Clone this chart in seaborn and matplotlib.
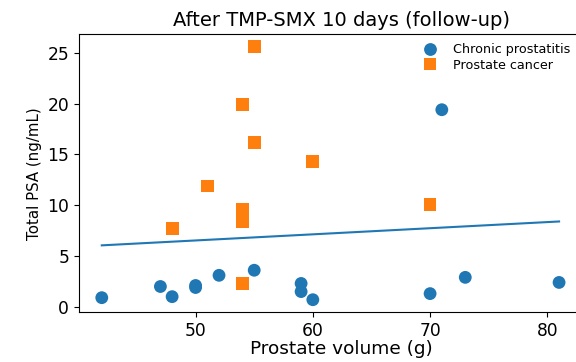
import matplotlib
matplotlib.use("Agg")
import matplotlib.pyplot as plt
import seaborn as sns
import pandas as pd

# Chronic prostatitis: prostate volume (g) and total PSA (ng/mL)
cp_volume = [42, 47, 48, 50, 50, 52, 55, 59, 59, 60, 70, 71, 73, 81]
cp_psa = [0.9, 2.0, 1.0, 1.9, 2.1, 3.1, 3.6, 2.3, 1.5, 0.7, 1.3, 19.4, 2.9, 2.4]

# Prostate cancer: prostate volume (g) and total PSA (ng/mL)
pc_volume = [48, 51, 54, 54, 54, 54, 55, 55, 60, 70]
pc_psa = [7.7, 11.9, 19.9, 9.6, 8.4, 2.3, 25.6, 16.2, 14.3, 10.1]

# Trend line endpoints
trend_volume = [42, 81]
trend_psa = [6.05, 8.4]

groups = ["Chronic prostatitis", "Prostate cancer"]
x_ticks = [50, 60, 70, 80]
y_ticks = [0, 5, 10, 15, 20, 25]

df = pd.DataFrame({
    "volume": cp_volume + pc_volume,
    "psa": cp_psa + pc_psa,
    "group": [groups[0]] * len(cp_volume) + [groups[1]] * len(pc_volume),
})
trend = pd.DataFrame({"volume": trend_volume, "psa": trend_psa})

fig = plt.figure(figsize=(5.76, 3.62), dpi=100)
# the plot area runs a little past the right edge of the canvas
ax = fig.add_axes([0.137, 0.137, 0.913, 0.769])

sns.scatterplot(data=df, x="volume", y="psa", hue="group", style="group",
                markers={groups[0]: "o", groups[1]: "s"},
                palette={groups[0]: "#1f77b4", groups[1]: "#ff7f0e"},
                s=85, linewidth=0, ax=ax)
sns.lineplot(data=trend, x="volume", y="psa", color="#1f77b4", linewidth=1.5,
             ax=ax, legend=False)

ax.set_xlim(40.05, 84.9)
ax.set_ylim(-0.55, 26.85)
ax.set_xticks(x_ticks)
ax.set_yticks(y_ticks)
ax.tick_params(labelsize=12.3)
ax.set_title("After TMP-SMX 10 days (follow-up)", fontsize=14, pad=6)
ax.set_xlabel("Prostate volume (g)", fontsize=13.3, labelpad=0)
ax.set_ylabel("Total PSA (ng/mL)", fontsize=10.8)

ax.legend(loc="upper right", bbox_to_anchor=(0.952, 1.0), frameon=False,
          fontsize=9.2, markerscale=1.0, handletextpad=0.8, labelspacing=0.2,
          borderaxespad=0.3)

fig.savefig("out.png", dpi=100)
